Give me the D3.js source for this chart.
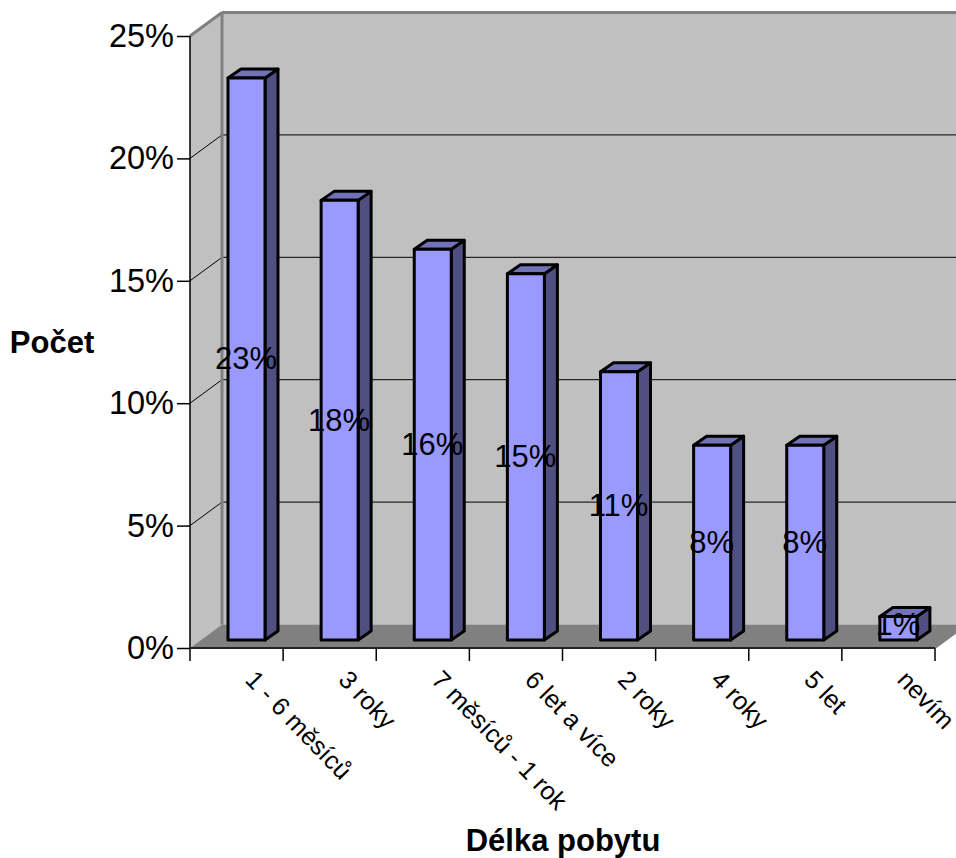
<!DOCTYPE html>
<html><head><meta charset="utf-8">
<style>html,body{margin:0;padding:0;background:#fff}svg{display:block}text{font-family:"Liberation Sans",Arial,sans-serif;fill:#000}</style>
<script src="https://cdn.jsdelivr.net/npm/d3@7"></script></head><body>
<svg id="c" width="956" height="858"></svg>
<script>
const categories=["1 - 6 měsíců","3 roky","7 měsíců - 1 rok","6 let a více","2 roky","4 roky","5 let","nevím"];
const values=[23,18,16,15,11,8,8,1];
const yTicks=[0,5,10,15,20,25];
const svg=d3.select("#c");
const x=d3.scaleBand().domain(categories).range([190,935]);
const y=d3.scaleLinear().domain([0,25]).range([648,36]);
const DX=32,DY=-23.5,dx=13,dy=-9,bw=37,base=-8;
const xl=190,xr=935,y0=y(0),yT=y(25);
const poly=(pts,fill,stroke,w)=>svg.append("polygon").attr("points",pts.map(p=>p.join(",")).join(" ")).attr("fill",fill).attr("stroke",stroke||"none").attr("stroke-width",w||0).attr("stroke-linejoin","round");
poly([[xl,y0],[xl+DX,y0+DY],[xl+DX,yT+DY],[xl,yT]],"#c0c0c0");
poly([[xl+DX,y0+DY],[xr+DX,y0+DY],[xr+DX,yT+DY],[xl+DX,yT+DY]],"#c0c0c0");
poly([[xl,y0],[xr,y0],[xr+DX,y0+DY],[xl+DX,y0+DY]],"#808080");
const line=(a,b,c,w)=>svg.append("line").attr("x1",a[0]).attr("y1",a[1]).attr("x2",b[0]).attr("y2",b[1]).attr("stroke",c).attr("stroke-width",w);
yTicks.slice(1,-1).forEach(t=>{
  line([xl,y(t)],[xl+DX,y(t)+DY],"#000",1);
  line([xl+DX,y(t)+DY],[xr+DX,y(t)+DY],"#000",1);
});
line([xl+DX,y0+DY],[xl+DX,yT+DY],"#808080",3);
line([xl+DX,yT+DY],[xr+DX,yT+DY],"#808080",3);
line([xl,yT],[xl+DX,yT+DY],"#808080",3);
line([xr,y0],[xr+DX,y0+DY],"#808080",2);
const gy=svg.append("g").attr("transform",`translate(${xl},0)`).call(d3.axisLeft(y).tickValues(yTicks).tickSize(13).tickPadding(3).tickFormat(d=>d+"%"));
gy.selectAll("line,path").attr("stroke","#000").attr("stroke-width",1.5);
gy.select("path").attr("d",`M0,${yT}V${y0}`);
gy.selectAll("text").attr("font-size",32.5).style("font-family",'"Liberation Sans",Arial,sans-serif').attr("fill","#000");
const tickX=[...categories.map(c=>x(c)),xr];
svg.append("g").selectAll("line").data(tickX).join("line").attr("x1",d=>d).attr("x2",d=>d).attr("y1",y0).attr("y2",y0+13).attr("stroke","#000").attr("stroke-width",1.5);
line([xl,y0],[xr,y0],"#222",2);
const yb=v=>y(v)+base;
categories.forEach((c,i)=>{
  const l=x(c)+38,r=l+bw,t=yb(values[i])+1,b=yb(0);
  const g="#000";
  poly([[r,t],[r+dx,t+dy],[r+dx,b+dy],[r,b]],"#4f4f82",g,3);
  poly([[l,t],[l+dx,t+dy],[r+dx,t+dy],[r,t]],"#7272b8",g,3);
  poly([[l,t],[r,t],[r,b],[l,b]],"#9999ff",g,3);
});
categories.forEach((c,i)=>{
  svg.append("text").attr("x",x(c)+56).attr("y",(yb(values[i])+yb(0))/2+(values[i]<2?-3:1)+10).attr("text-anchor","middle").attr("font-size",31).text(values[i]+"%");
});
categories.forEach(c=>{
  const px=x(c)+54,py=681;
  svg.append("text").attr("transform",`translate(${px},${py}) rotate(46)`).attr("font-size",25.3).text(c);
});
svg.append("text").attr("x",563).attr("y",851).attr("text-anchor","middle").attr("font-size",31).attr("font-weight","bold").text("Délka pobytu");
svg.append("text").attr("x",52).attr("y",353).attr("text-anchor","middle").attr("font-size",31).attr("font-weight","bold").text("Počet");
</script></body></html>
